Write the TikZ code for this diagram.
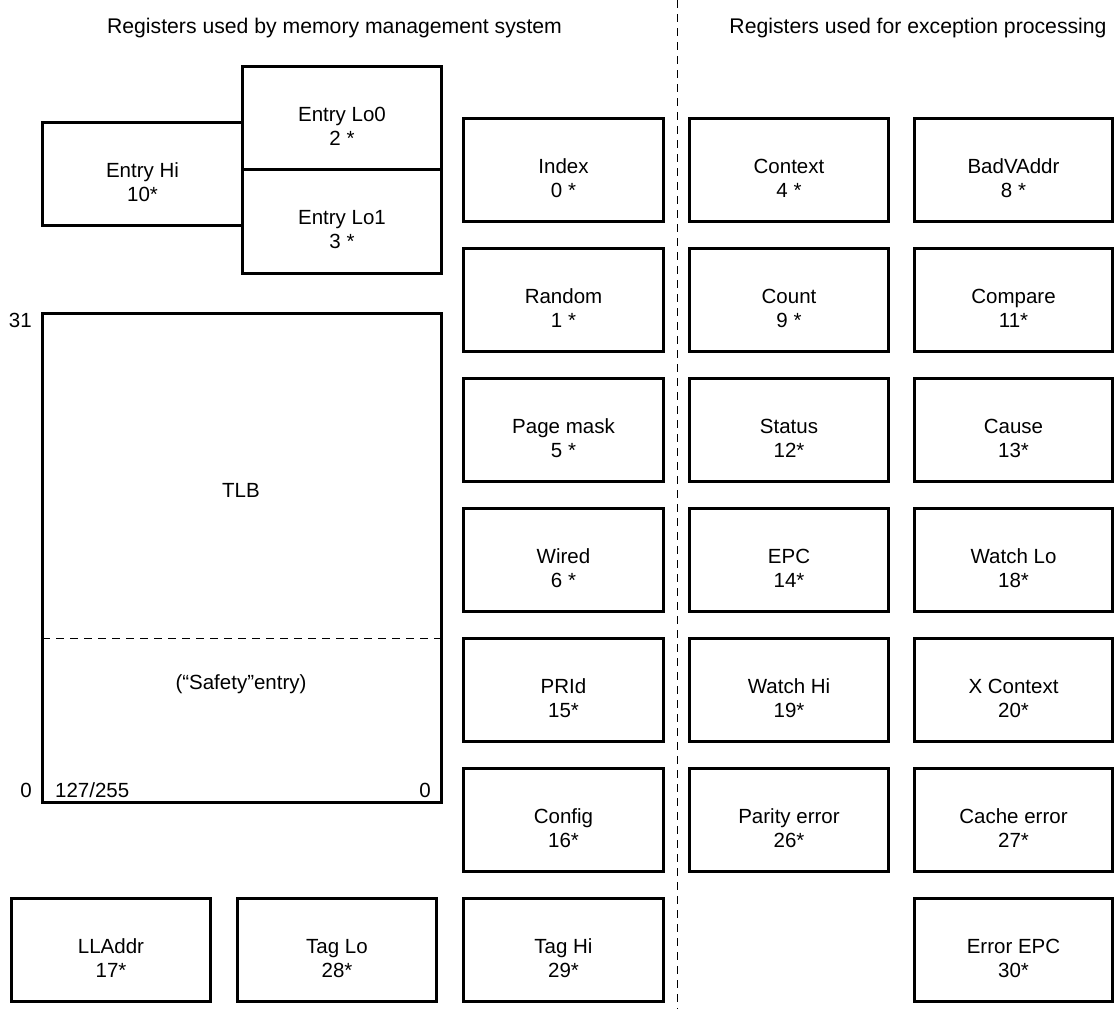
\documentclass[tikz,border=0pt]{standalone}
\usepackage{fontspec}
\setmainfont{Liberation Sans}
\begin{document}
\begin{tikzpicture}[x=1pt,y=-1pt,
  every node/.style={font=\fontsize{20.5}{24}\selectfont},
  reg/.style={draw, line width=3pt, minimum width=200pt, minimum height=103pt,
              align=center, inner sep=0pt, text height=54pt, text depth=0pt},
  lbl/.style={inner sep=0pt},
  heading/.style={inner sep=0pt, font=\fontsize{21.2}{25}\selectfont},
  thindash/.style={line width=1pt, dash pattern=on 8pt off 6pt}]
\useasboundingbox (0,0) rectangle (1114,1009);

% headings and separator
\node[heading] (tmm) at (334.5,28) {Registers used by memory management system};
\node[heading] (tex) at (918,28) {Registers used for exception processing};
\coordinate (sepTop) at (677.5,0);
\coordinate (sepBot) at (677.5,1009);
\draw[thindash] (sepTop) -- (sepBot);

% entry registers
\node[reg] (ehi) at (142.5,174) {Entry Hi\\10*};
\node[reg, minimum width=199pt] (elo0) at (342,118) {Entry Lo0\\2 *};
\node[reg, minimum width=199pt, minimum height=104pt] (elo1) at (342,221.5) {Entry Lo1\\3 *};

% TLB
\node[draw, line width=3pt, minimum width=399pt, minimum height=489pt, inner sep=0pt]
  (tlb) at (242,558) {};
\node[lbl] (tlbname) at (241,490) {TLB};
\coordinate (safL) at (42,638.5);
\coordinate (safR) at (441,638.5);
\draw[thindash] (safL) -- (safR);
\node[lbl] (safety) at (241,684) {(“Safety”entry)};
\node[lbl, anchor=base east] (b31) at (32,327) {31};
\node[lbl, anchor=base east] (b0l) at (32,797) {0};
\node[lbl, anchor=base west] (idx) at (55,797) {127/255};
\node[lbl, anchor=base east] (b0r) at (431,797) {0};

% bottom-left registers
\node[reg, minimum width=199pt] (lladdr) at (111,950) {LLAddr\\17*};
\node[reg, minimum width=199pt] (taglo) at (337,950) {Tag Lo\\28*};

% register grid
\tikzset{c1/.style={minimum width=200pt}, c2/.style={minimum width=199pt},
         c3/.style={minimum width=198pt}}
\foreach \name/\txt/\cx/\cy/\col in {
  index/{Index\\0 *}/563.5/170/c1,
  random/{Random\\1 *}/563.5/300/c1,
  pagemask/{Page mask\\5 *}/563.5/430/c1,
  wired/{Wired\\6 *}/563.5/560/c1,
  prid/{PRId\\15*}/563.5/690/c1,
  config/{Config\\16*}/563.5/820/c1,
  taghi/{Tag Hi\\29*}/563.5/950/c1,
  context/{Context\\4 *}/789/170/c2,
  count/{Count\\9 *}/789/300/c2,
  status/{Status\\12*}/789/430/c2,
  epc/{EPC\\14*}/789/560/c2,
  watchhi/{Watch Hi\\19*}/789/690/c2,
  parity/{Parity error\\26*}/789/820/c2,
  badvaddr/{BadVAddr\\8 *}/1013.5/170/c3,
  compare/{Compare\\11*}/1013.5/300/c3,
  cause/{Cause\\13*}/1013.5/430/c3,
  watchlo/{Watch Lo\\18*}/1013.5/560/c3,
  xcontext/{X Context\\20*}/1013.5/690/c3,
  cacheerr/{Cache error\\27*}/1013.5/820/c3,
  errorepc/{Error EPC\\30*}/1013.5/950/c3}
  \node[reg, \col] (\name) at (\cx,\cy) {\txt};
\end{tikzpicture}
\end{document}
